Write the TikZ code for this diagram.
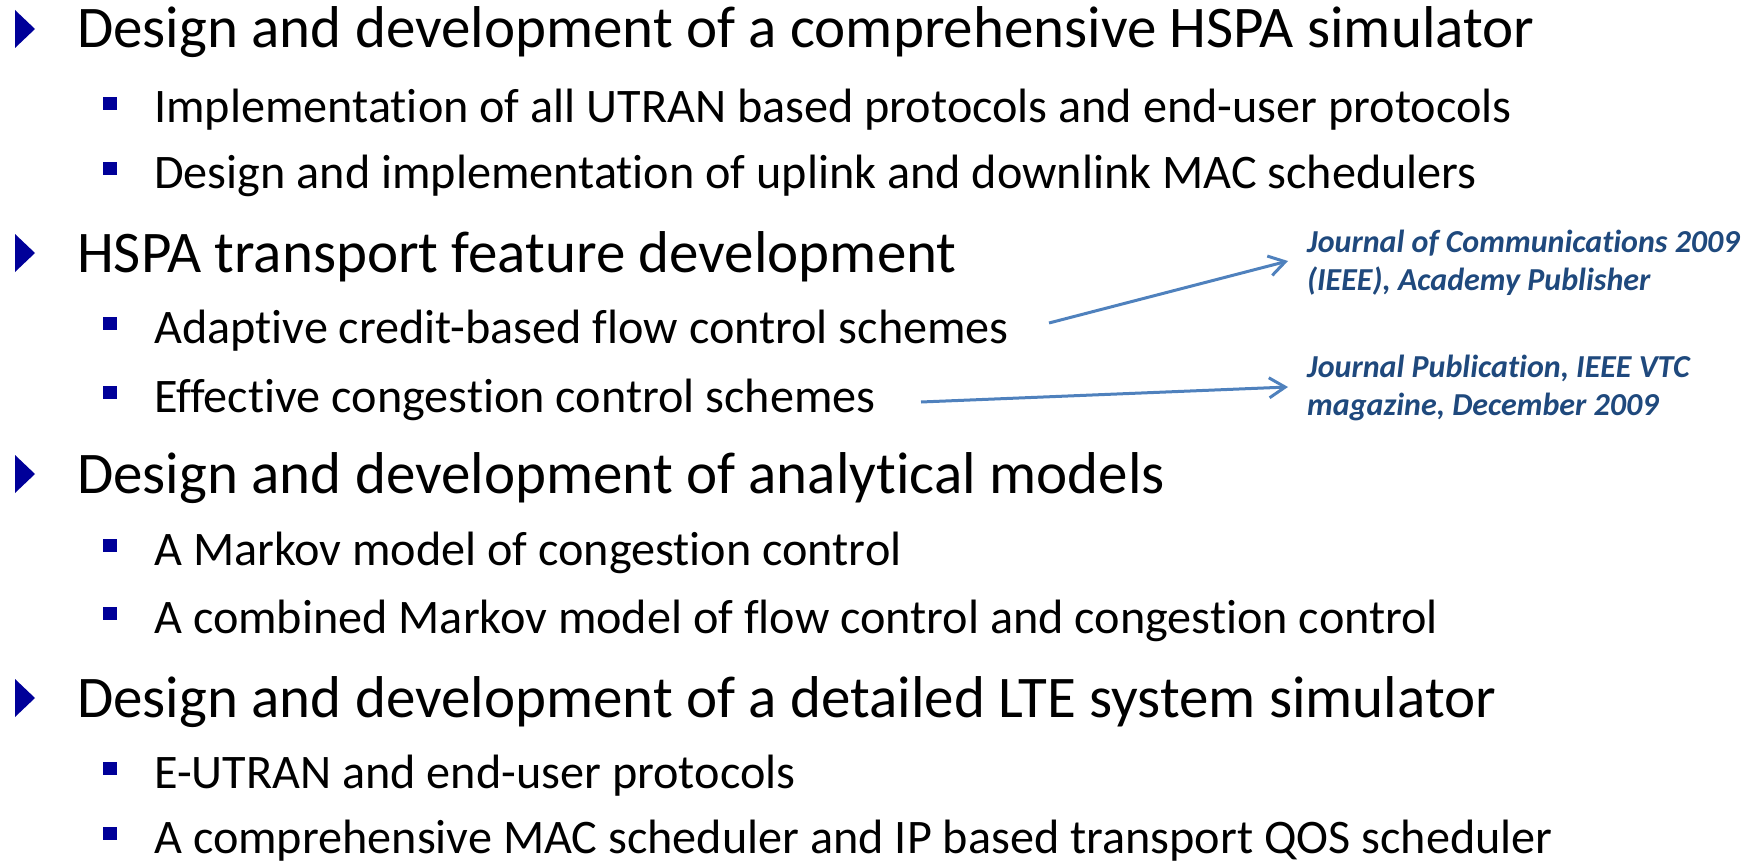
\documentclass[tikz,border=0pt]{standalone}
\usepackage{fontspec}
\setmainfont{Carlito}[Ligatures=NoCommon]
\usetikzlibrary{arrows.meta}
\definecolor{bulletblue}{RGB}{0,0,153}
\definecolor{linkblue}{RGB}{79,129,189}
\definecolor{notenavy}{RGB}{31,73,125}
\tikzset{
  level one/.style={anchor=base west, inner sep=0pt, font=\fontsize{59}{70}\selectfont},
  level two/.style={anchor=base west, inner sep=0pt, font=\fontsize{48.2}{58}\selectfont},
  note/.style={anchor=base west, inner sep=0pt, align=left, text=notenavy,
    font=\fontsize{32}{38}\selectfont\bfseries\itshape},
  cite arrow/.style={draw=linkblue, line width=3pt,
    -{Straight Barb[length=16pt,width=20pt,line width=3pt]}},
}
% bullets, placed by the baseline of their line
\newcommand\tribullet[1]{\fill[bulletblue] (15,#1-38) -- (35,#1-19) -- (15,#1) -- cycle;}
\newcommand\sqbullet[1]{\fill[bulletblue] (103,#1-26) rectangle (117,#1-13);}
\begin{document}
\begin{tikzpicture}[x=1pt,y=-1pt]
\useasboundingbox (0,0) rectangle (1761,864);

% first-level items
\tribullet{48}  \node[level one] (h1) at (77,48)  {Design and development of a comprehensive HSPA simulator};
\tribullet{272} \node[level one] (h2) at (77,272) {HSPA transport feature development};
\tribullet{493} \node[level one] (h3) at (77,493) {Design and development of analytical models};
\tribullet{717} \node[level one] (h4) at (77,717) {Design and development of a detailed LTE system simulator};

% second-level items
\sqbullet{123} \node[level two] (s1) at (154,123) {Implementation of all UTRAN based protocols and end-user protocols};
\sqbullet{188} \node[level two] (s2) at (154,188) {Design and implementation of uplink and downlink MAC schedulers};
\sqbullet{343} \node[level two] (s3) at (154,343) {Adaptive credit-based flow control schemes};
\sqbullet{412} \node[level two] (s4) at (154,412) {Effective congestion control schemes};
\sqbullet{565} \node[level two] (s5) at (154,565) {A Markov model of congestion control};
\sqbullet{633} \node[level two] (s6) at (154,633) {A combined Markov model of flow control and congestion control};
\sqbullet{788} \node[level two] (s7) at (154,788) {E-UTRAN and end-user protocols};
\sqbullet{853} \node[level two] (s8) at (154,853) {A comprehensive MAC scheduler and IP based transport QOS scheduler};

% publication notes (base anchor sits on the last line)
\node[note] (n1) at (1307,290) {Journal of Communications 2009\\(IEEE), Academy Publisher};
\node[note] (n2) at (1307,415) {Journal Publication, IEEE VTC\\magazine, December 2009};

% arrows from the transport items to their publications
\coordinate (a1s) at (1049,323);
\coordinate (a1e) at (1288,261);
\coordinate (a2s) at (921,402);
\coordinate (a2e) at (1288,387);
\draw[cite arrow] (a1s) -- (a1e);
\draw[cite arrow] (a2s) -- (a2e);
\end{tikzpicture}
\end{document}
